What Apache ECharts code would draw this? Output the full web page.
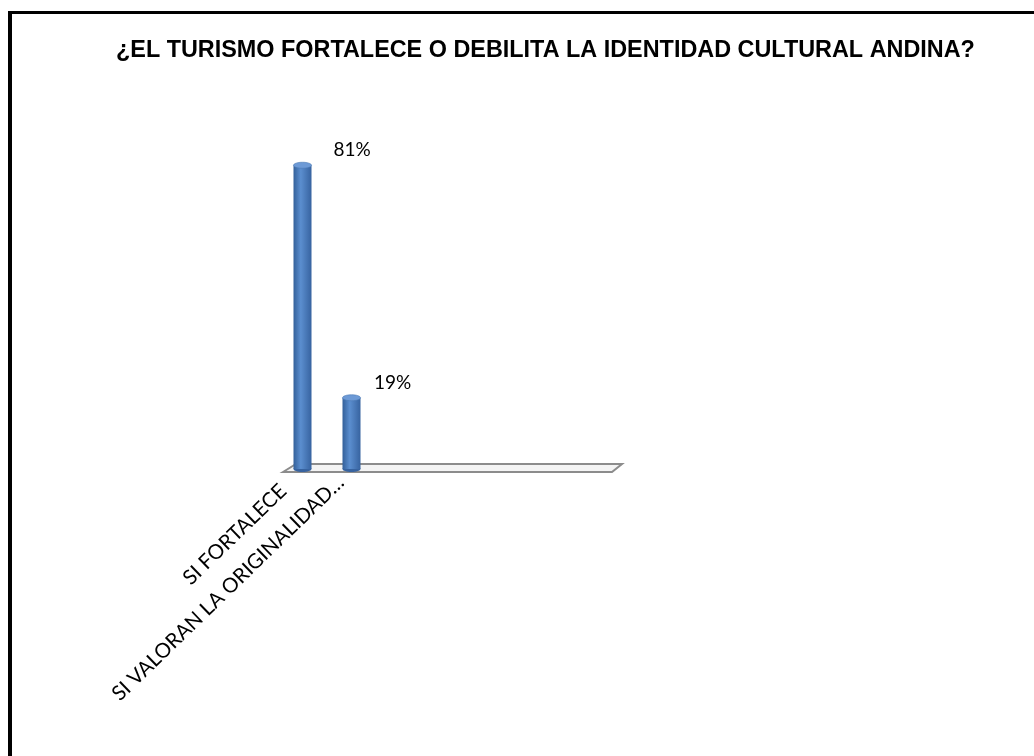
<!DOCTYPE html>
<html>
<head>
<meta charset="utf-8">
<script src="https://cdn.jsdelivr.net/npm/echarts@6/dist/echarts.min.js"></script>
<style>
  html, body { margin: 0; padding: 0; background: #fff; overflow: hidden; }
  #frame {
    position: absolute; left: 8px; top: 11px; width: 1100px; height: 800px;
    border-top: 3px solid #000; border-left: 4px solid #000;
  }
  #chart { position: absolute; left: 0; top: 0; width: 1034px; height: 756px; }
</style>
</head>
<body>
<div id="frame"></div>
<div id="chart"></div>
<script>
// Excel-style 3D cylinder chart, two answers on a floor sized for 7 slots.
const titleText = '¿EL TURISMO FORTALECE O DEBILITA LA IDENTIDAD CULTURAL ANDINA?';
const categories = ['SI FORTALECE', 'SI VALORAN LA ORIGINALIDAD…', '', '', '', '', ''];
const shares = [0.81, 0.19];

const chart = echarts.init(document.getElementById('chart'));

function floorItem(params) {
  const c = params.coordSys;
  const base = c.y + c.height;
  return {
    type: 'polygon',
    shape: {
      points: [
        [c.x + 5, base + 3],
        [c.x + 18, base - 5],
        [c.x + c.width + 1, base - 5],
        [c.x + c.width - 9, base + 3],
      ],
    },
    style: { fill: '#f4f4f4', stroke: '#8c8c8c', lineWidth: 2 },
    silent: true,
  };
}

function cylinderItem(params, api) {
  const top = api.coord([api.value(0), api.value(1)]);
  const base = api.coord([api.value(0), 0]);
  const w = 18;
  const x = top[0] - w / 2;
  const body = new echarts.graphic.LinearGradient(0, 0, 1, 0, [
    { offset: 0, color: '#33609a' },
    { offset: 0.4, color: '#5b8ecf' },
    { offset: 1, color: '#3763a0' },
  ]);
  // label drifts right a little more on taller cylinders (Excel perspective)
  const dx = 20 + (base[1] - top[1]) * 0.036;
  return {
    type: 'group',
    children: [
      { type: 'ellipse', shape: { cx: top[0], cy: base[1], rx: w / 2, ry: 3 }, style: { fill: '#3763a0' } },
      { type: 'rect', shape: { x: x, y: top[1], width: w, height: base[1] - top[1] }, style: { fill: body } },
      { type: 'ellipse', shape: { cx: top[0], cy: top[1], rx: w / 2, ry: 3 }, style: { fill: '#6d9ad6', stroke: '#4a78b4', lineWidth: 0.6 } },
      {
        type: 'text',
        style: {
          text: Math.round(api.value(1) * 100) + '%',
          x: top[0] + dx, y: top[1] - 15,
          textAlign: 'left', textVerticalAlign: 'middle',
          font: '19px Lato, "Open Sans", sans-serif', fill: '#000',
        },
      },
    ],
  };
}

chart.setOption({
  animation: false,
  title: {
    text: titleText,
    left: 111,
    top: 34,
    textStyle: { fontFamily: '"Liberation Sans", Arial, sans-serif', fontSize: 23.4, fontWeight: 'bold', color: '#000' },
  },
  grid: { left: 278, right: 413, top: 94, bottom: 287, outerBoundsMode: 'none' },
  xAxis: {
    type: 'category',
    data: categories,
    axisLine: { show: false },
    axisTick: { show: false },
    splitLine: { show: false },
    axisLabel: {
      interval: 0,
      rotate: 44,
      margin: 0,
      padding: [0, 15, 0, 0],
      fontSize: 20.5,
      fontFamily: 'Lato, "Open Sans", sans-serif',
      color: '#000',
      // the front category sits a bit further out on the 3D floor
      formatter: (v, i) => (i === 0 ? '{front|' + v + '}' : v),
      rich: {
        front: { fontSize: 20.5, fontFamily: 'Lato, "Open Sans", sans-serif', color: '#000', padding: [0, 12, 0, 0] },
      },
    },
  },
  yAxis: { type: 'value', min: 0, max: 1, show: false },
  series: [
    { type: 'custom', renderItem: floorItem, data: [[0, 0]], z: 1, silent: true },
    {
      type: 'custom',
      renderItem: cylinderItem,
      encode: { x: 0, y: 1 },
      data: shares.map((v, i) => [i, v]),
      z: 2,
    },
  ],
});
</script>
</body>
</html>
